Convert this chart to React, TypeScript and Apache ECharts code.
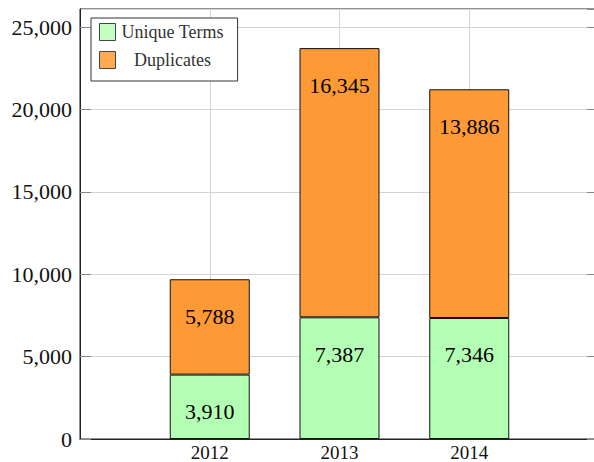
import React, { useEffect, useRef } from "react";
import * as echarts from "echarts";

const years = ["2012", "2013", "2014"];
const axisYears = ["2011", "2012", "2013", "2014", "2015"];
const uniqueTerms = [3910, 7387, 7346];
const duplicates = [5788, 16345, 13886];
const yTicks = [0, 5000, 10000, 15000, 20000, 25000];

const FONT = "'Liberation Serif', 'DejaVu Serif', serif";
const fmt = (v: number) => v.toLocaleString("en-US");

export default function App() {
  const ref = useRef<HTMLDivElement>(null);
  useEffect(() => {
    if (!ref.current) return;
    const chart = echarts.init(ref.current, null, { renderer: "svg" });
    const yMax = 26105;
    const pad = (arr: number[]) => ["-", ...arr, "-"];
    const labelCfg = {
      show: true,
      position: "insideTop" as const,
      distance: 26,
      color: "#000",
      fontFamily: FONT,
      fontSize: 22,
      formatter: (p: any) => fmt(p.value),
    };
    chart.setOption({
      animation: false,
      grid: {
        left: 80,
        top: 9,
        width: 519,
        height: 430,
        outerBoundsMode: "none",
        containLabel: false,
        show: true,
        borderColor: "#222",
        borderWidth: 1,
        backgroundColor: "transparent",
      },
      legend: {
        orient: "vertical",
        left: 91,
        top: 18,
        padding: [5, 14, 12, 8],
        itemWidth: 16,
        itemHeight: 17,
        itemGap: 10,
        icon: "rect",
        backgroundColor: "#fff",
        borderColor: "#333",
        borderWidth: 1,
        borderRadius: 0,
        textStyle: {
          fontFamily: FONT,
          fontSize: 18,
          color: "#333",
          rich: {
            a: { width: 104, align: "center", fontFamily: FONT, fontSize: 18, color: "#333" },
          },
        },
        formatter: (name: string) => "{a|" + name + "}",
        data: [
          { name: "Unique Terms", itemStyle: { color: "#c2ffc2", borderColor: "#444", borderWidth: 1 } },
          { name: "Duplicates", itemStyle: { color: "#ffa953", borderColor: "#444", borderWidth: 1 } },
        ],
      },
      xAxis: {
        type: "category",
        data: axisYears,
        boundaryGap: false,
        axisLine: { show: true, lineStyle: { color: "#222", width: 1 } },
        axisTick: { show: false },
        splitLine: { show: true, lineStyle: { color: "#d4d4d4", width: 1 } },
        axisLabel: {
          interval: 0,
          color: "#111",
          fontFamily: FONT,
          fontSize: 19,
          margin: 4,
          formatter: (v: string) => (years.includes(v) ? v : ""),
        },
      },
      yAxis: [
        {
          type: "value",
          min: 0,
          max: yMax,
          interval: 5000,
          axisLine: { show: true, lineStyle: { color: "#222", width: 1 } },
          axisTick: { show: true, inside: true, length: 11, lineStyle: { color: "#888" } },
          splitLine: { show: true, lineStyle: { color: "#d4d4d4", width: 1 } },
          axisLabel: {
            showMaxLabel: false,
            color: "#111",
            fontFamily: FONT,
            fontSize: 22,
            margin: 8,
            formatter: (v: number) => (yTicks.includes(v) ? fmt(v) : ""),
          },
        },
        {
          type: "value",
          position: "right",
          min: 0,
          max: yMax,
          interval: 5000,
          axisLine: { show: false },
          axisTick: { show: true, inside: true, length: 12, lineStyle: { color: "#888" } },
          splitLine: { show: false },
          axisLabel: { show: false },
        },
      ],
      series: [
        {
          name: "Unique Terms",
          type: "bar",
          stack: "total",
          barWidth: 80,
          data: pad(uniqueTerms),
          itemStyle: { color: "#b3ffb3", borderColor: "#111", borderWidth: 1 },
          label: labelCfg,
        },
        {
          name: "Duplicates",
          type: "bar",
          stack: "total",
          barWidth: 80,
          data: pad(duplicates),
          itemStyle: { color: "#fe9a35", borderColor: "#111", borderWidth: 1 },
          label: labelCfg,
        },
      ],
    });
    return () => chart.dispose();
  }, []);
  return (
    <div
      ref={ref}
      style={{ position: "fixed", left: 0, top: 0, width: 594, height: 462, background: "#fff" }}
    />
  );
}
